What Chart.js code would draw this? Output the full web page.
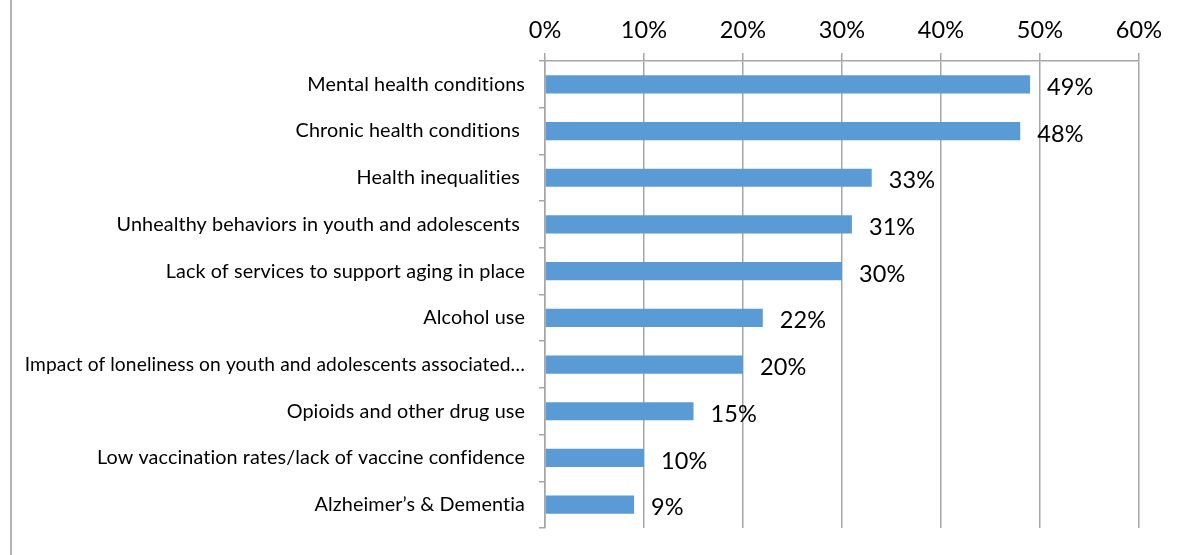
<!DOCTYPE html>
<html>
<head>
<meta charset="utf-8">
<script src="https://cdn.jsdelivr.net/npm/chart.js@4.4.1/dist/chart.umd.min.js"></script>
<style>
    body { margin: 0; background: #fff; }
    #wrap { position: relative; width: 1190px; height: 555px; }
    #edge { position: absolute; left: 10px; top: 0; width: 2px; height: 555px; background: #b4b4b4; }
</style>
</head>
<body>
<div id="wrap">
    <canvas id="issues-chart" width="1190" height="555"></canvas>
    <div id="edge"></div>
</div>
<script>
const categories = [
    'Mental health conditions',
    'Chronic health conditions ',
    'Health inequalities ',
    'Unhealthy behaviors in youth and adolescents ',
    'Lack of services to support aging in place',
    'Alcohol use',
    'Impact of loneliness on youth and adolescents associated…',
    'Opioids and other drug use',
    'Low vaccination rates/lack of vaccine confidence',
    'Alzheimer’s & Dementia'
];
const percentages = [49, 48, 33, 31, 30, 22, 20, 15, 10, 9];
const axisMax = 60;
const axisStep = 10;

const gridColor = '#a6a6a6';
const textColor = '#000000';
const fontFamily = 'Lato, "Open Sans", sans-serif';

// tiny letter spacing keeps Lato from joining "ti" into a ligature
const plainText = {
    id: 'plainText',
    beforeDraw(chart) {
        chart.ctx.letterSpacing = '0.1px';
    }
};

// writes the percentage just past the end of each bar
const valueLabels = {
    id: 'valueLabels',
    afterDatasetsDraw(chart) {
        const ctx = chart.ctx;
        const meta = chart.getDatasetMeta(0);
        ctx.save();
        ctx.font = '23.5px ' + fontFamily;
        ctx.fillStyle = textColor;
        ctx.textAlign = 'left';
        ctx.textBaseline = 'middle';
        meta.data.forEach((bar, i) => {
            ctx.fillText(percentages[i] + '%', bar.x + 17, bar.y + 3);
        });
        ctx.restore();
    }
};

const ctx = document.getElementById('issues-chart').getContext('2d');
new Chart(ctx, {
    type: 'bar',
    data: {
        labels: categories,
        datasets: [{
            data: percentages,
            backgroundColor: '#5b9bd5',
            borderWidth: 0,
            barPercentage: 0.39,
            categoryPercentage: 1
        }]
    },
    options: {
        indexAxis: 'y',
        responsive: false,
        animation: false,
        layout: { padding: { left: 10, right: 51, top: 0, bottom: 27 } },
        plugins: {
            legend: { display: false },
            tooltip: { enabled: false }
        },
        scales: {
            x: {
                position: 'top',
                min: 0,
                max: axisMax,
                ticks: {
                    stepSize: axisStep,
                    color: textColor,
                    padding: 8,
                    font: { family: fontFamily, size: 23.5 },
                    callback: v => v + '%'
                },
                grid: { color: gridColor, lineWidth: 1.5, tickLength: 8 },
                border: { color: gridColor, width: 1.5 },
                afterFit(scale) { scale.height = 61; }
            },
            y: {
                ticks: {
                    color: textColor,
                    padding: 14,
                    // the long truncated label is set a touch smaller so it clears the left edge
                    font: c => ({ family: fontFamily, size: c.index === 6 ? 19.2 : 19.8 })
                },
                grid: { drawOnChartArea: false, offset: true, color: gridColor, lineWidth: 1.5, tickLength: 6 },
                border: { color: gridColor, width: 1.5 },
                afterFit(scale) { scale.width = 535; }
            }
        }
    },
    plugins: [plainText, valueLabels]
});
</script>
</body>
</html>
